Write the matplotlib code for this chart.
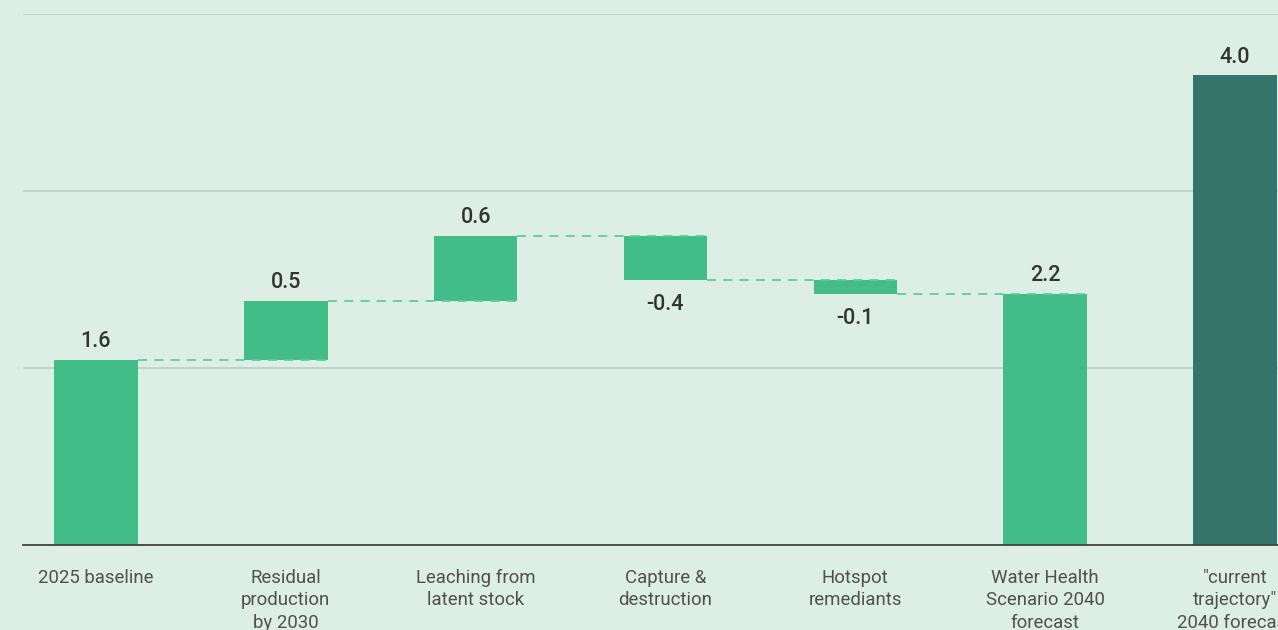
import numpy as np
import matplotlib.pyplot as plt

# Categorías y valores
categories = ['2025 baseline', 'Residual\nproduction\nby 2030', 'Leaching from\nlatent stock',
              'Capture &\ndestruction', 'Hotspot\nremediants', 'Water Health\nScenario 2040\nforecast',
              '"current\ntrajectory"\n2040 forecast']
changes = [1.59, 0.51, 0.56, -0.38, -0.12]
current_trajectory = 4.04

# Totales acumulados
totals = np.cumsum(changes)
scenario_total = totals[-1]

bg = '#ddefe5'
green = '#42bd8a'
dark = '#33756a'
dash_col = '#5ccf98'

plt.rcParams['font.family'] = ['Roboto', 'DejaVu Sans']

fig = plt.figure(figsize=(12.78, 6.30), dpi=100, facecolor=bg)
ax = fig.add_axes([23 / 1278, 85 / 630, 1285 / 1278, 531 / 630])
ax.set_facecolor(bg)

w = 0.44
x = np.arange(len(categories))
lab = dict(ha='center', fontsize=15.5, fontweight='medium', color='#333333',
           textcoords='offset points')

# Barras de la cascada
bottoms = np.concatenate([[0], totals[:-1]])
for i, (b, c) in enumerate(zip(bottoms, changes)):
    ax.bar(x[i], c, bottom=b, width=w, color=green, zorder=3)
ax.bar(x[5], scenario_total, width=w, color=green, zorder=3)
ax.bar(x[6], current_trajectory, width=w, color=dark, zorder=3)

# Líneas de conexión
for i in range(len(totals)):
    ax.plot([x[i] + w / 2, x[i + 1] + w / 2], [totals[i], totals[i]],
            color=dash_col, linestyle=(0, (5, 4)), linewidth=1.3, zorder=4)

# Etiquetas de valor
for i, (b, c) in enumerate(zip(bottoms, changes)):
    if c >= 0:
        ax.annotate(f'{c:.1f}', (x[i], b + c), xytext=(0, 5.5), va='bottom', **lab)
    else:
        ax.annotate(f'{c:.1f}', (x[i], b + c), xytext=(0, -10), va='top', **lab)
ax.annotate(f'{scenario_total:.1f}', (x[5], scenario_total), xytext=(0, 5.5), va='bottom', **lab)
ax.annotate(f'{current_trajectory:.1f}', (x[6], current_trajectory), xytext=(0, 5.5), va='bottom', **lab)

ymax = 4.566
ax.set_xlim(-0.384, 6.384)
ax.set_ylim(0, ymax)
ax.set_yticks(np.linspace(0, ymax, 4))
ax.set_yticklabels([])
ax.tick_params(axis='y', length=0)
ax.grid(axis='y', color='#b8cfc3', linewidth=1.2, zorder=0)

ax.set_xticks(x)
ax.set_xticklabels(categories, fontsize=13.4, color='#505050', linespacing=1.32, va='top')
ax.tick_params(axis='x', length=0, pad=17)

for s in ['top', 'right', 'left']:
    ax.spines[s].set_visible(False)
ax.spines['bottom'].set_color('#444444')
ax.spines['bottom'].set_linewidth(1.3)
ax.spines['bottom'].set_zorder(5)

fig.savefig('out.png', dpi=100, facecolor=bg)
